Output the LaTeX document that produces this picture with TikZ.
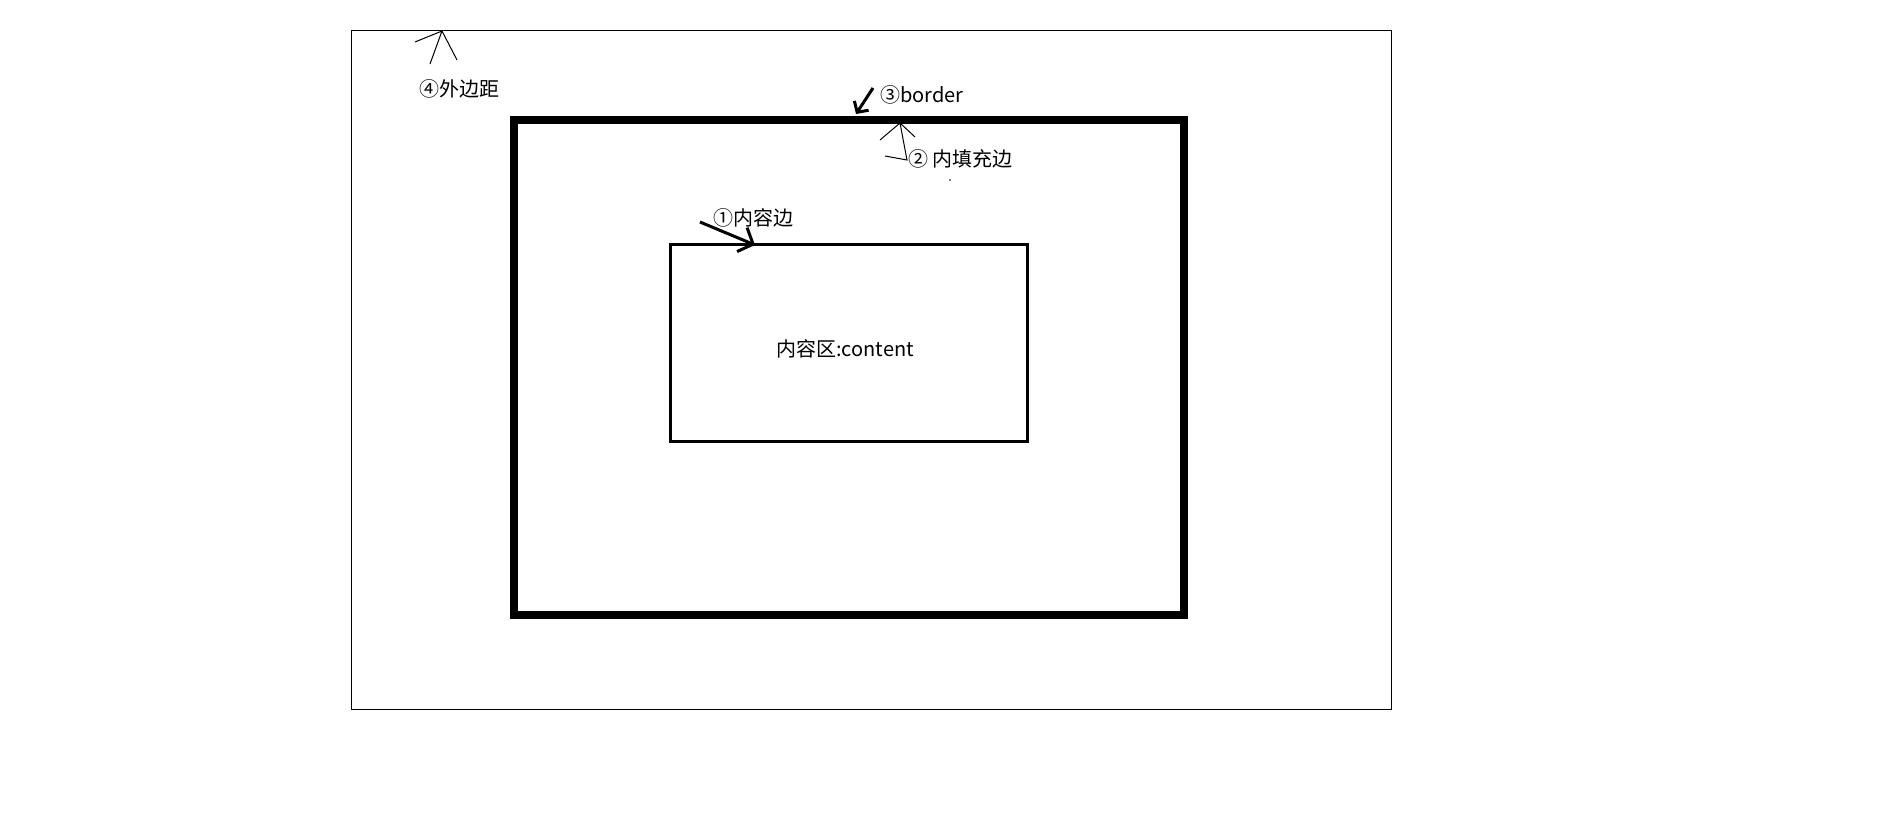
\documentclass[tikz,border=0pt]{standalone}
\usepackage{fontspec}
\setmainfont{Noto Sans CJK SC}
\usetikzlibrary{arrows.meta}

\begin{document}
\begin{tikzpicture}[x=1pt, y=-1pt,
    frame/.style = {draw, line width=#1, inner sep=0pt},
    lbl/.style = {anchor=west, inner sep=0pt, font=\fontsize{20}{20}\selectfont},
    thinpen/.style = {line width=1pt},
    thickpen/.style 2 args = {line width=3pt, -{Straight Barb[length=#1, width=#2]}}]
    \useasboundingbox (0,0) rectangle (1877,834);

    \node[frame=1pt, minimum width=1040pt, minimum height=678pt] at (871,370) (margin) {};
    \node[frame=8pt, minimum width=670pt, minimum height=494.5pt] at (849,367.25) (border) {};
    \node[frame=3pt, minimum width=357pt, minimum height=197pt] at (849,343.3) (content) {};
    \node[lbl, anchor=center] at (845,349) (ctext) {内容区:content};

    \node[lbl] at (713,218) (l1) {①内容边};
    \node[lbl] at (908,159) (l2) {② 内填充边};
    \node[lbl] at (880,95) (l3) {③border};
    \node[lbl] at (419,89) (l4) {④外边距};

    \coordinate (s1) at (700,222);
    \coordinate (t1) at (755,245);
    \coordinate (s3) at (873,88);
    \coordinate (t3) at (856,114);
    \coordinate (t2) at (900,123);
    \coordinate (t4) at (442,31);

    \draw[thickpen={12pt}{26pt}] (s1) -- (t1);
    \draw[thickpen={8pt}{17pt}] (s3) -- (t3);
    \draw[thinpen] (t2) -- ++(-20,17) (t2) -- ++(15,14) (t2) -- ++(7,37) -- ++(-22,-4);
    \draw[thinpen] (t4) -- ++(-27,11) (t4) -- ++(-12,33) (t4) -- ++(15,29);
    \fill (950,180) circle (0.8);
\end{tikzpicture}
\end{document}
